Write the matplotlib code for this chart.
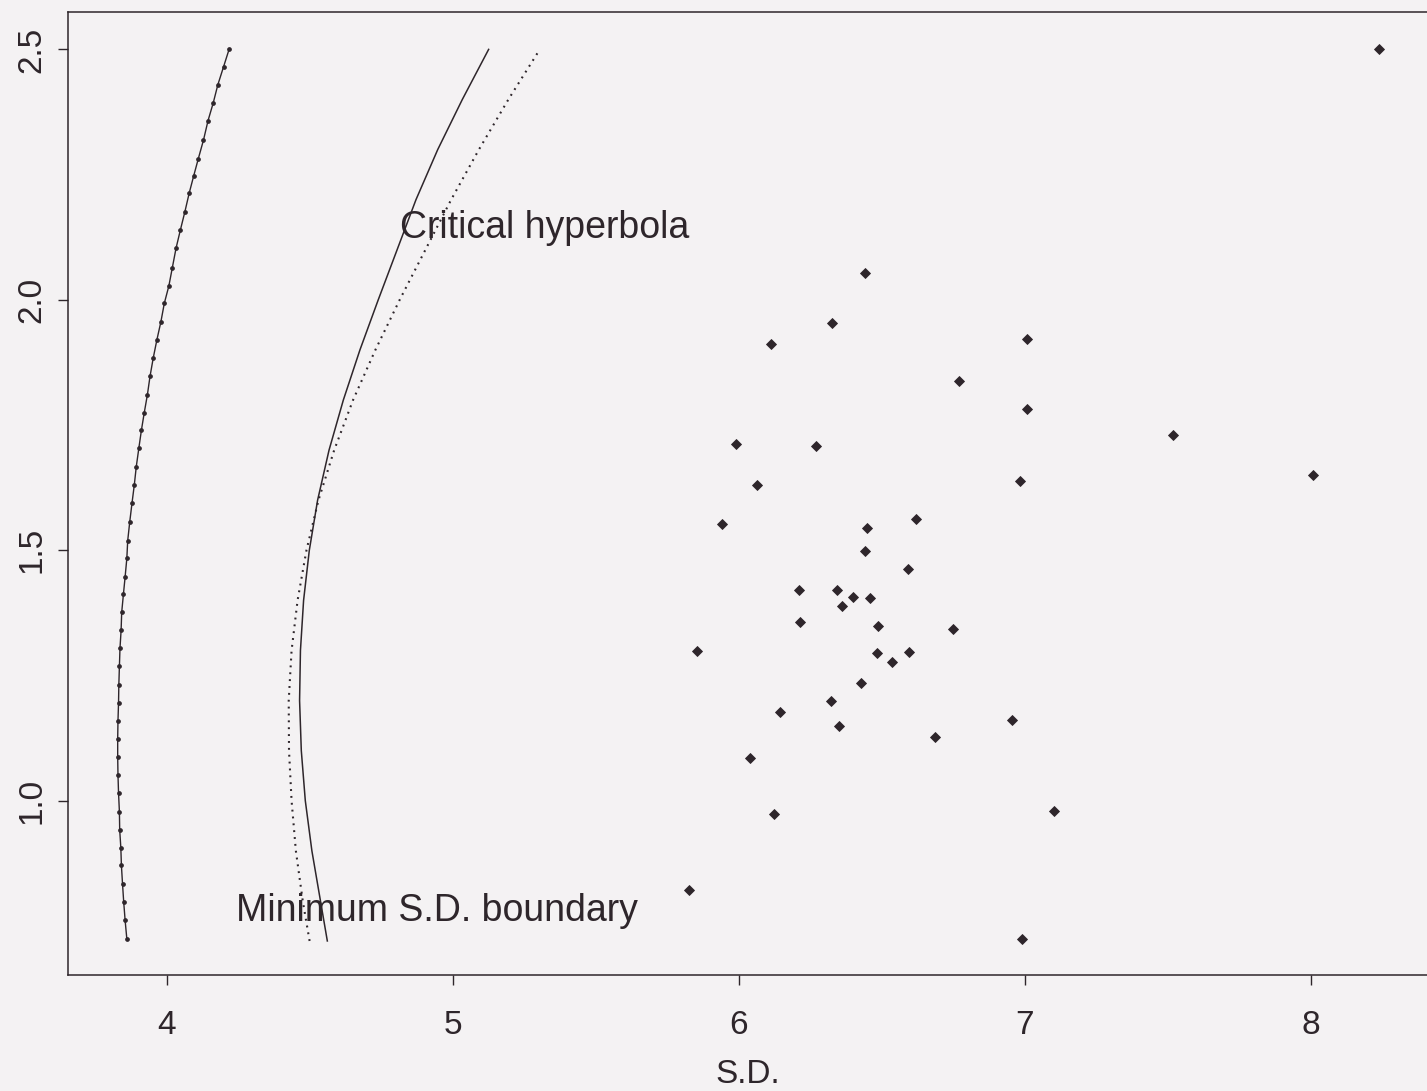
import matplotlib
matplotlib.use("Agg")
import matplotlib.pyplot as plt

# ---------------- data ----------------
# scatter of portfolios: S.D. vs mean
sd_points = [8.240, 6.442, 6.328, 6.113, 7.009, 6.769, 7.009, 5.990, 6.269, 7.519,
             8.009, 6.984, 6.064, 5.943, 6.449, 6.619, 6.443, 6.594, 6.210, 6.344,
             6.399, 6.459, 6.362, 6.215, 6.489, 6.750, 5.854, 6.484, 6.597, 6.536,
             6.428, 6.323, 6.144, 6.351, 6.957, 6.686, 6.041, 6.125, 7.103, 5.825,
             6.990]
mean_points = [2.501, 2.054, 1.954, 1.911, 1.922, 1.838, 1.783, 1.712, 1.708, 1.730,
               1.651, 1.639, 1.630, 1.552, 1.545, 1.563, 1.499, 1.462, 1.421, 1.421,
               1.407, 1.404, 1.389, 1.357, 1.348, 1.343, 1.299, 1.294, 1.297, 1.277,
               1.235, 1.200, 1.178, 1.149, 1.162, 1.127, 1.086, 0.974, 0.979, 0.821,
               0.723]

# minimum S.D. boundary (left curve, solid with dots)
min_bound_mean = [2.501, 2.465, 2.429, 2.393, 2.358, 2.319, 2.282, 2.248, 2.213, 2.176,
                  2.139, 2.103, 2.064, 2.028, 1.993, 1.956, 1.920, 1.883, 1.847, 1.811,
                  1.775, 1.740, 1.704, 1.667, 1.630, 1.594, 1.556, 1.519, 1.484, 1.447,
                  1.412, 1.376, 1.341, 1.304, 1.268, 1.231, 1.196, 1.159, 1.124, 1.088,
                  1.052, 1.015, 0.978, 0.942, 0.906, 0.871, 0.833, 0.798, 0.761, 0.724]
min_bound_sd = [4.219, 4.199, 4.179, 4.163, 4.145, 4.129, 4.111, 4.095, 4.079, 4.064,
                4.048, 4.033, 4.020, 4.008, 3.992, 3.980, 3.966, 3.953, 3.942, 3.933,
                3.922, 3.912, 3.903, 3.894, 3.887, 3.879, 3.871, 3.864, 3.861, 3.855,
                3.849, 3.843, 3.841, 3.837, 3.835, 3.833, 3.832, 3.830, 3.829, 3.829,
                3.830, 3.832, 3.835, 3.836, 3.840, 3.842, 3.846, 3.850, 3.855, 3.861]

# critical hyperbola (solid) and its dotted companion
hyp_mean = [0.72, 0.80, 0.90, 1.00, 1.10, 1.20, 1.30, 1.40, 1.50, 1.60,
            1.70, 1.80, 1.90, 2.00, 2.10, 2.20, 2.30, 2.40, 2.50]
crit_sd = [4.562, 4.538, 4.508, 4.485, 4.471, 4.465, 4.468, 4.479, 4.499, 4.528,
           4.568, 4.618, 4.676, 4.740, 4.806, 4.872, 4.948, 5.034, 5.126]
dotted_sd = [4.500, 4.476, 4.452, 4.437, 4.428, 4.427, 4.437, 4.458, 4.489, 4.531,
             4.586, 4.652, 4.730, 4.815, 4.905, 4.995, 5.092, 5.195, 5.305]

x_ticks = [4, 5, 6, 7, 8]
y_ticks = [1.0, 1.5, 2.0, 2.5]
y_tick_labels = ["1.0", "1.5", "2.0", "2.5"]

# ---------------- style ----------------
plt.rcParams['font.family'] = ['Liberation Sans', 'DejaVu Sans']
ink = '#2e262b'
bg = '#f4f2f3'

fig = plt.figure(figsize=(14.27, 10.91), dpi=100, facecolor=bg)
ax = fig.add_axes([0.0478, 0.1063, 0.9522, 0.8824], facecolor=bg)

ax.plot(min_bound_sd, min_bound_mean, color=ink, lw=1.0, marker='o', ms=2.4,
        mec=ink, mfc=ink)
ax.plot(crit_sd, hyp_mean, color=ink, lw=1.1)
ax.plot(dotted_sd, hyp_mean, color=ink, lw=1.5, linestyle=(0, (0.9, 2.4)))
ax.plot(sd_points, mean_points, linestyle='none', marker='D', ms=5.5,
        mfc=ink, mec=ink, mew=0.6)

ax.text(4.816, 2.143, "Critical hyperbola", fontsize=27, color=ink,
        ha='left', va='center')
ax.text(4.243, 0.78, "Minimum S.D. boundary", fontsize=27, color=ink,
        ha='left', va='center')

ax.set_xlim(3.656, 8.407)
ax.set_ylim(0.652, 2.574)
ax.set_xticks(x_ticks)
ax.set_yticks(y_ticks)
ax.set_yticklabels(y_tick_labels, rotation=90, va='center')
ax.tick_params(axis='x', length=7, width=1.0, color=ink, labelcolor=ink,
               labelsize=24, pad=18)
ax.tick_params(axis='y', length=7, width=1.0, color=ink, labelcolor=ink,
               labelsize=24, pad=8)
ax.set_xlabel("S.D.", fontsize=24, color=ink, labelpad=13)

for side in ['left', 'bottom', 'top']:
    ax.spines[side].set_color(ink)
    ax.spines[side].set_linewidth(1.1)
ax.spines['right'].set_visible(False)

fig.savefig("out.png", dpi=100, facecolor=bg)
